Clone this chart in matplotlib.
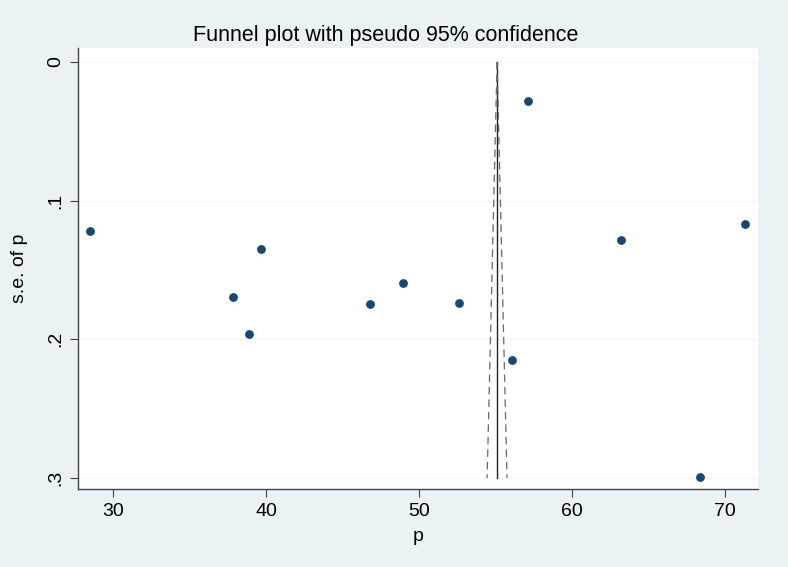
import matplotlib
matplotlib.use('Agg')
from matplotlib import pyplot as plt

# study estimates (p) and their standard errors
p_values = [28.5, 39.67, 37.84, 38.89, 46.8, 48.95, 52.61, 57.12, 56.08, 63.2, 71.31, 68.37]
se_values = [0.1218, 0.1348, 0.1694, 0.1961, 0.1745, 0.1593, 0.1738, 0.0281, 0.2149, 0.1283, 0.1168, 0.2992]

# pooled estimate and pseudo 95% limits
pooled = 55.1
se_range = [0.0, 0.3]
lower_limit = [55.1, 54.45]
upper_limit = [55.1, 55.75]

x_ticks = [30, 40, 50, 60, 70]
y_ticks = [0, 0.1, 0.2, 0.3]
y_tick_labels = ['0', '.1', '.2', '.3']

bg = '#eaf2f3'
navy = '#1a476f'

plt.rcParams['font.family'] = ['Liberation Sans', 'DejaVu Sans']

fig = plt.figure(figsize=(7.88, 5.67), dpi=100, facecolor=bg)
ax = fig.add_axes([78 / 788, 1 - 489 / 567, 680 / 788, 441 / 567])
ax.set_facecolor('white')

for t in y_ticks:
    ax.axhline(t, color='#f1f5f6', lw=1, zorder=0)

ax.plot([pooled, pooled], se_range, color='#222222', lw=1, zorder=2)
ax.plot(lower_limit, se_range, color='#666666', lw=0.9, dashes=(6, 4), zorder=2)
ax.plot(upper_limit, se_range, color='#666666', lw=0.9, dashes=(6, 4), zorder=2)

ax.scatter(p_values, se_values, s=40, color=navy, zorder=3, linewidths=0)

ax.set_xlim(27.7, 72.16)
ax.set_ylim(0.3079, -0.0101)
ax.set_xticks(x_ticks)
ax.set_yticks(y_ticks)
ax.set_yticklabels(y_tick_labels, rotation=90, va='center')
ax.tick_params(axis='both', direction='out', length=6, width=0.8, color='#444444',
               labelsize=14, pad=4)

for side in ['top', 'right']:
    ax.spines[side].set_visible(False)
for side in ['left', 'bottom']:
    ax.spines[side].set_color('#444444')
    ax.spines[side].set_linewidth(1)

ax.set_xlabel('p', fontsize=14, labelpad=6)
ax.set_ylabel('s.e. of p', fontsize=14, labelpad=14)
fig.text(386 / 788, 1 - 35 / 567, 'Funnel plot with pseudo 95% confidence',
         fontsize=15.5, ha='center', va='center')

fig.savefig('out.png', dpi=100, facecolor=bg)
